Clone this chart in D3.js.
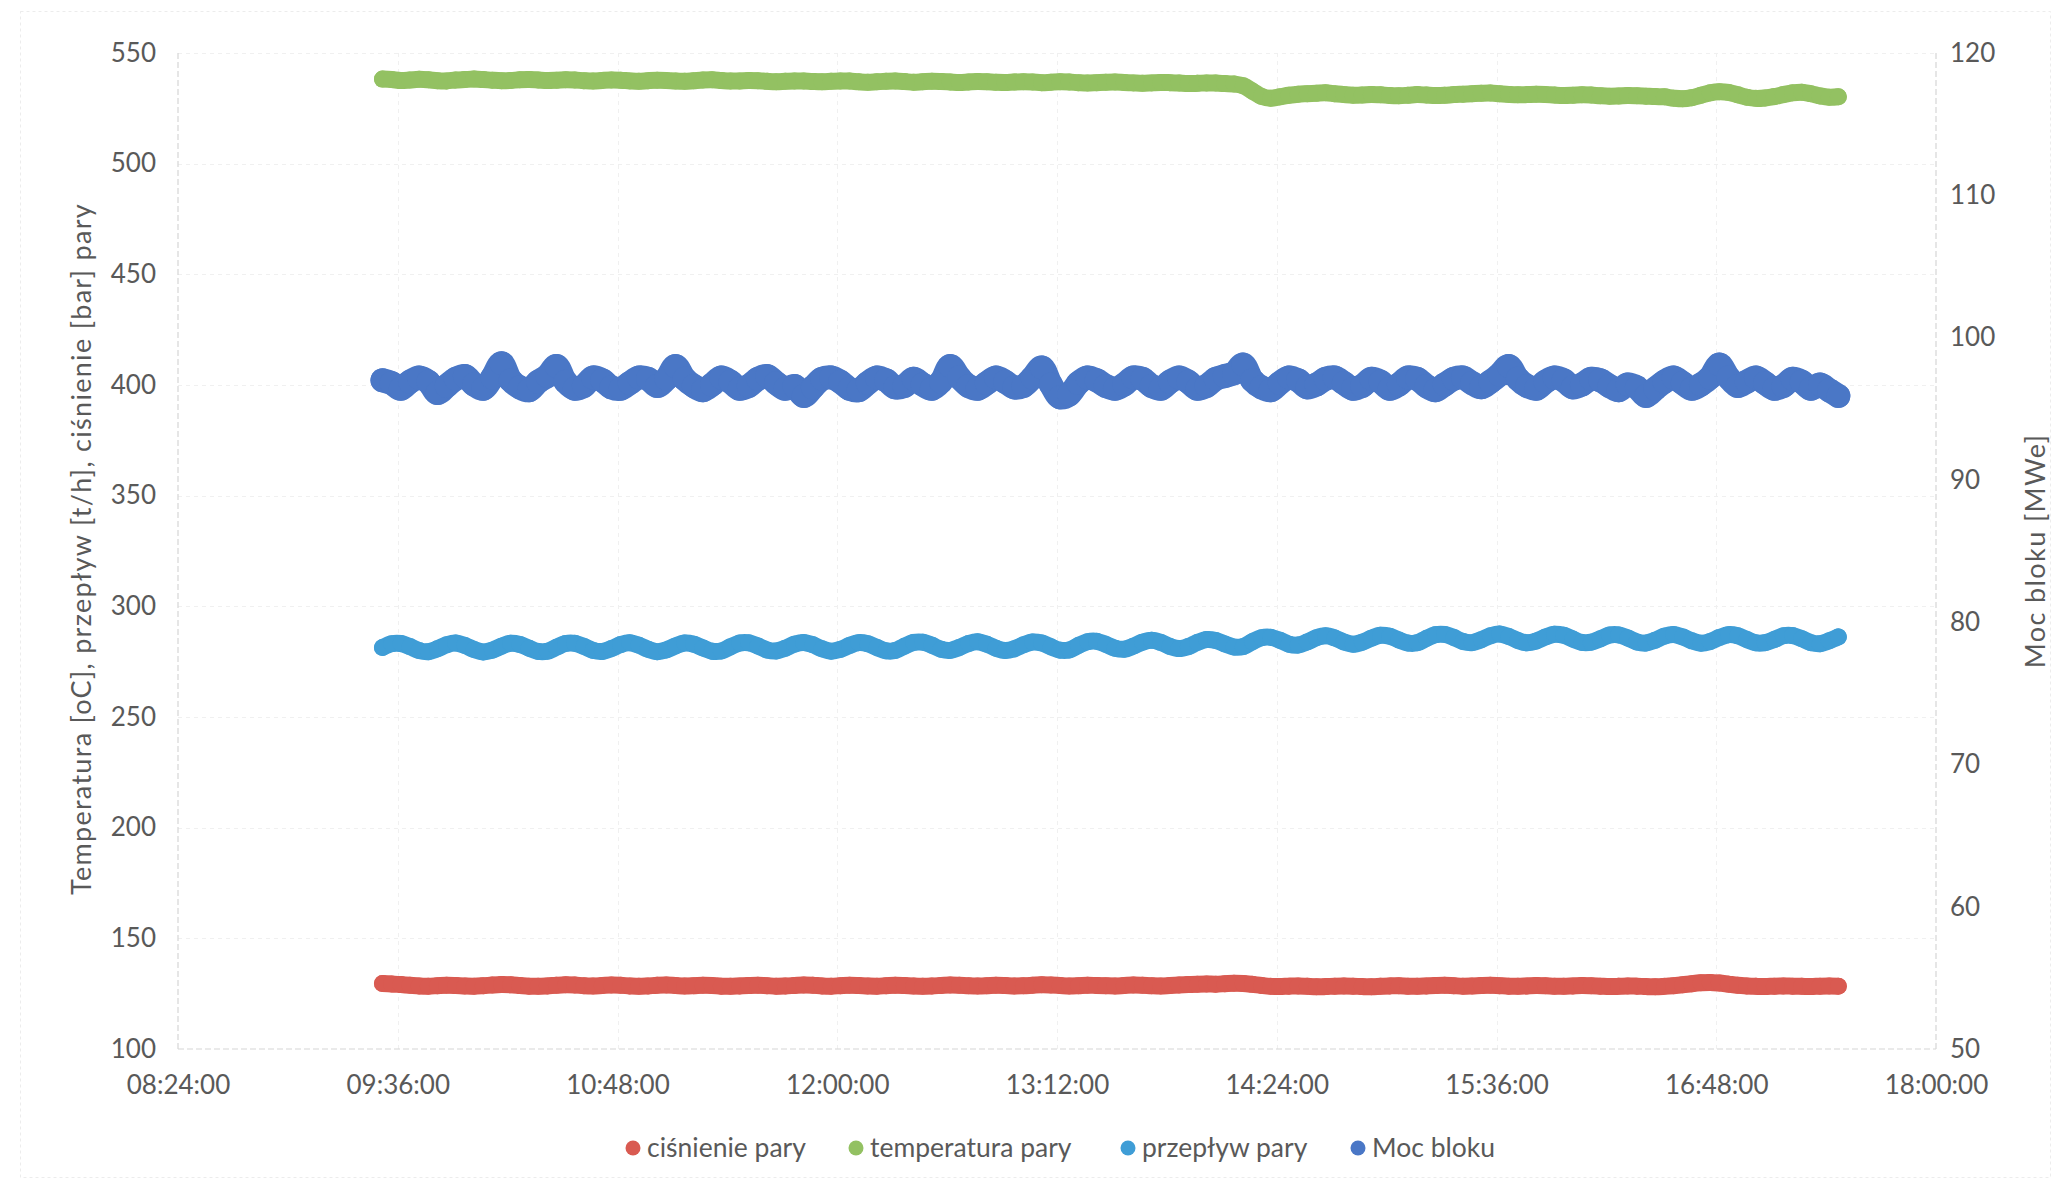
<!DOCTYPE html>
<html>
<head>
<meta charset="utf-8">
<script src="https://cdn.jsdelivr.net/npm/d3@7"></script>
<style>
  html, body { margin: 0; padding: 0; background: #ffffff; }
  svg { display: block; }
  text { font-family: Lato, "Open Sans", sans-serif; fill: #595959; }
</style>
</head>
<body>
<svg id="chart" width="2069" height="1190"></svg>
<script>
// Sampling: first reading at 09:31, one reading every 3 minutes
const startMinute = 9 * 60 + 31;
const stepMinutes = 3;

// ciśnienie pary [bar] (left axis)
const cisnienie = [
  129.6, 129.4, 129.1, 128.8, 128.5, 128.4, 128.6, 128.8, 128.7, 128.5,
  128.4, 128.6, 128.9, 129.1, 129.0, 128.7, 128.4, 128.3, 128.5, 128.8,
  129.0, 128.9, 128.6, 128.5, 128.7, 128.9, 128.8, 128.5, 128.3, 128.5,
  128.8, 128.9, 128.7, 128.5, 128.6, 128.8, 128.7, 128.4, 128.3, 128.5,
  128.7, 128.8, 128.6, 128.4, 128.5, 128.7, 128.9, 128.8, 128.5, 128.4,
  128.6, 128.8, 128.7, 128.5, 128.4, 128.6, 128.8, 128.7, 128.5, 128.4,
  128.5, 128.7, 128.9, 128.8, 128.6, 128.5, 128.6, 128.8, 128.7, 128.5,
  128.6, 128.8, 129.0, 128.9, 128.7, 128.5, 128.6, 128.8, 128.7, 128.6,
  128.5, 128.7, 128.9, 128.8, 128.6, 128.5, 128.7, 128.9, 129.1, 129.3,
  129.4, 129.3, 129.5, 129.7, 129.6, 129.2, 128.7, 128.3, 128.2, 128.4,
  128.5, 128.3, 128.1, 128.2, 128.4, 128.5, 128.4, 128.2, 128.1, 128.3,
  128.5, 128.6, 128.4, 128.3, 128.5, 128.7, 128.8, 128.6, 128.4, 128.5,
  128.7, 128.8, 128.6, 128.4, 128.3, 128.5, 128.7, 128.6, 128.4, 128.3,
  128.5, 128.7, 128.6, 128.4, 128.2, 128.3, 128.5, 128.4, 128.2, 128.1,
  128.3, 128.6, 129.0, 129.5, 129.9, 130.1, 129.8, 129.3, 128.8, 128.5,
  128.3, 128.2, 128.4, 128.5, 128.4, 128.3, 128.2, 128.4, 128.5, 128.4
];

// temperatura pary [oC] (left axis)
const temperatura = [
  538.2, 538.0, 537.6, 537.8, 538.1, 537.9, 537.5, 537.4, 537.8, 538.0,
  538.2, 538.0, 537.7, 537.5, 537.6, 537.9, 538.0, 537.8, 537.6, 537.7,
  537.9, 537.8, 537.5, 537.3, 537.6, 537.8, 537.7, 537.4, 537.2, 537.5,
  537.7, 537.6, 537.3, 537.2, 537.5, 537.8, 537.9, 537.6, 537.3, 537.4,
  537.6, 537.5, 537.2, 537.0, 537.2, 537.4, 537.3, 537.1, 537.0, 537.2,
  537.4, 537.3, 537.0, 536.8, 537.0, 537.2, 537.3, 537.1, 536.8, 537.0,
  537.2, 537.1, 536.9, 536.7, 536.9, 537.1, 537.0, 536.8, 536.7, 536.9,
  537.0, 536.9, 536.6, 536.8, 537.0, 536.9, 536.6, 536.4, 536.6, 536.8,
  536.9, 536.7, 536.5, 536.3, 536.5, 536.7, 536.6, 536.4, 536.2, 536.3,
  536.5, 536.4, 536.2, 536.0, 535.2, 532.8, 530.4, 529.6, 530.2, 530.9,
  531.4, 531.6, 531.8, 532.0, 531.6, 531.2, 530.9, 531.0, 531.3, 531.1,
  530.8, 530.7, 530.9, 531.2, 531.0, 530.8, 530.9, 531.2, 531.4, 531.6,
  531.8, 531.9, 531.6, 531.3, 531.1, 531.2, 531.4, 531.3, 531.0, 530.8,
  530.9, 531.1, 531.0, 530.7, 530.5, 530.6, 530.8, 530.7, 530.5, 530.3,
  530.2, 529.6, 529.3, 529.8, 530.9, 532.0, 532.5, 532.2, 531.1, 530.0,
  529.5, 529.7, 530.3, 531.2, 532.0, 532.3, 531.6, 530.6, 530.0, 530.2
];

// przepływ pary [t/h] (left axis)
const przeplyw = [
  281.4, 283.1, 283.2, 281.8, 280.0, 279.5, 280.8, 282.6, 283.4, 282.3,
  280.5, 279.4, 280.2, 282.0, 283.3, 282.8, 281.1, 279.6, 279.7,
  281.5, 283.2, 283.3, 281.9, 280.1, 279.6, 280.9, 282.7, 283.5, 282.4,
  280.6, 279.5, 280.3, 282.1, 283.4, 282.9, 281.2, 279.7, 279.8,
  281.7, 283.4, 283.5, 282.1, 280.3, 279.8, 281.1, 282.9, 283.7, 282.6,
  280.8, 279.7, 280.5, 282.3, 283.6, 283.1, 281.4, 279.9, 280.0,
  282.0, 283.7, 283.8, 282.4, 280.6, 280.1, 281.4, 283.2, 284.0, 282.9,
  281.1, 280.0, 280.8, 282.6, 283.9, 283.4, 281.7, 280.2, 280.3,
  282.3, 284.0, 284.2, 282.8, 281.1, 280.6, 282.0, 283.8, 284.7, 283.7,
  281.9, 280.9, 281.8, 283.7, 285.0, 284.6, 283.0, 281.6, 281.8,
  284.0, 285.8, 286.0, 284.7, 282.9, 282.5, 283.9, 285.8, 286.7, 285.7,
  283.9, 282.9, 283.8, 285.6, 286.9, 286.5, 284.8, 283.4, 283.5,
  285.5, 287.2, 287.3, 285.9, 284.1, 283.6, 284.9, 286.7, 287.5, 286.4,
  284.6, 283.5, 284.3, 286.1, 287.4, 286.9, 285.2, 283.7, 283.8,
  285.3, 287.0, 287.1, 285.7, 283.9, 283.4, 284.7, 286.5, 287.3, 286.2,
  284.4, 283.3, 284.1, 285.9, 287.2, 286.7, 285.0, 283.5, 283.6,
  285.0, 286.7, 286.8, 285.4, 283.6, 283.1, 284.4, 286.2
];

// Moc bloku [MWe] (right axis)
const mocBloku = [
  97.0, 96.8, 96.4, 96.9, 97.2, 96.9, 96.1, 96.6, 97.1, 97.3,
  96.7, 96.4, 97.2, 98.2, 97.0, 96.5, 96.3, 96.9, 97.3, 98.0,
  96.9, 96.4, 96.6, 97.2, 97.0, 96.5, 96.4, 96.8, 97.2, 97.1,
  96.6, 97.1, 98.0, 97.1, 96.6, 96.3, 96.7, 97.2, 96.9, 96.4,
  96.6, 97.1, 97.3, 96.8, 96.4, 96.6, 95.9, 96.5, 97.1, 97.2,
  96.9, 96.4, 96.3, 96.8, 97.2, 97.0, 96.5, 96.6, 97.1, 96.7,
  96.4, 96.9, 98.0, 97.2, 96.6, 96.4, 96.8, 97.2, 96.9, 96.5,
  96.6, 97.2, 97.9, 96.7, 95.8, 96.0, 96.8, 97.2, 97.0, 96.6,
  96.4, 96.7, 97.2, 97.1, 96.6, 96.4, 96.9, 97.2, 96.9, 96.4,
  96.6, 97.1, 97.3, 97.5, 98.1, 97.0, 96.5, 96.3, 96.8, 97.2,
  97.0, 96.5, 96.7, 97.1, 97.2, 96.8, 96.4, 96.6, 97.1, 96.9,
  96.4, 96.7, 97.2, 97.1, 96.6, 96.3, 96.7, 97.1, 97.2, 96.8,
  96.5, 96.9, 97.4, 98.0, 97.1, 96.6, 96.4, 96.9, 97.2, 97.0,
  96.5, 96.7, 97.1, 97.0, 96.6, 96.3, 96.7, 96.5, 95.9, 96.4,
  96.9, 97.2, 96.8, 96.4, 96.7, 97.2, 98.1, 97.2, 96.6, 96.9,
  97.2, 96.8, 96.4, 96.6, 97.1, 96.9, 96.4, 96.7, 96.3, 95.9
];

// Axis ticks
const xTickMinutes = [504, 576, 648, 720, 792, 864, 936, 1008, 1080];
const xTickLabels = ["08:24:00", "09:36:00", "10:48:00", "12:00:00", "13:12:00",
                     "14:24:00", "15:36:00", "16:48:00", "18:00:00"];
const leftTicks = [100, 150, 200, 250, 300, 350, 400, 450, 500, 550];
const rightTicks = [50, 60, 70, 80, 90, 100, 110, 120];

const seriesNames = ["ciśnienie pary", "temperatura pary", "przepływ pary", "Moc bloku"];
const seriesColors = ["#d95a51", "#93c162", "#3f9dd6", "#4a77c6"];

// Layout
const plot = { left: 178, right: 1936, top: 53, bottom: 1049 };

const svg = d3.select("#chart");

const x = d3.scaleLinear().domain([504, 1080]).range([plot.left, plot.right]);
const yL = d3.scaleLinear().domain([100, 550]).range([plot.bottom, plot.top]);
const yR = d3.scaleLinear().domain([50, 120]).range([plot.bottom, plot.top]);

// faint chart area border
svg.append("rect")
  .attr("x", 20.5).attr("y", 11.5).attr("width", 2030).attr("height", 1166)
  .attr("fill", "none").attr("stroke", "#ececec").attr("stroke-width", 1)
  .attr("stroke-dasharray", "3,3");

// gridlines
const grid = svg.append("g").attr("stroke", "#f0f0f0").attr("stroke-width", 1)
  .attr("stroke-dasharray", "4,4");
grid.selectAll("line.h").data(leftTicks.slice(1)).join("line")
  .attr("x1", plot.left).attr("x2", plot.right)
  .attr("y1", d => Math.round(yL(d)) + 0.5).attr("y2", d => Math.round(yL(d)) + 0.5);
grid.selectAll("line.v").data(xTickMinutes.slice(1, -1)).join("line")
  .attr("y1", plot.top).attr("y2", plot.bottom)
  .attr("x1", d => Math.round(x(d)) + 0.5).attr("x2", d => Math.round(x(d)) + 0.5);

// axis lines
const axisLines = svg.append("g").attr("stroke", "#d6d6d6").attr("stroke-width", 1.2)
  .attr("stroke-dasharray", "6,3");
axisLines.append("line").attr("x1", plot.left).attr("x2", plot.left).attr("y1", plot.top).attr("y2", plot.bottom);
axisLines.append("line").attr("x1", plot.right).attr("x2", plot.right).attr("y1", plot.top).attr("y2", plot.bottom);
axisLines.append("line").attr("x1", plot.left).attr("x2", plot.right).attr("y1", plot.bottom).attr("y2", plot.bottom);

// axes (labels only)
const tickFont = 26;
const gL = svg.append("g").attr("transform", `translate(${plot.left},0)`)
  .call(d3.axisLeft(yL).tickValues(leftTicks).tickSize(0).tickPadding(22));
const gR = svg.append("g").attr("transform", `translate(${plot.right},0)`)
  .call(d3.axisRight(yR).tickValues(rightTicks).tickSize(0).tickPadding(14));
const gX = svg.append("g").attr("transform", `translate(0,${plot.bottom})`)
  .call(d3.axisBottom(x).tickValues(xTickMinutes).tickSize(0).tickPadding(27)
    .tickFormat((d, i) => xTickLabels[i]));
[gL, gR, gX].forEach(g => {
  g.select(".domain").remove();
  g.selectAll("text").attr("font-size", tickFont).attr("fill", "#595959")
    .attr("font-family", "Lato, 'Open Sans', sans-serif");
});

// axis titles
const titleFont = 27;
svg.append("text")
  .attr("transform", "translate(82,549) rotate(-90)")
  .attr("text-anchor", "middle").attr("dy", "0.35em").attr("font-size", titleFont)
  .attr("letter-spacing", 1.3)
  .text("Temperatura [oC], przepływ [t/h], ciśnienie [bar] pary");
svg.append("text")
  .attr("transform", "translate(2036,551) rotate(-90)")
  .attr("text-anchor", "middle").attr("dy", "0.35em").attr("font-size", titleFont)
  .attr("letter-spacing", 1.4)
  .text("Moc bloku [MWe]");

// series: overlapping round markers joined by a band of the same width
const timeOf = i => startMinute + i * stepMinutes;
const series = [
  { values: cisnienie, y: yL, r: 8.5 },
  { values: temperatura, y: yL, r: 8.5 },
  { values: przeplyw, y: yL, r: 8.5 },
  { values: mocBloku, y: yR, r: 12 }
];

series.forEach((s, k) => {
  const g = svg.append("g");
  const line = d3.line()
    .x((d, i) => x(timeOf(i)))
    .y(d => s.y(d))
    .curve(d3.curveCatmullRom.alpha(0.5));
  g.append("path")
    .attr("d", line(s.values))
    .attr("fill", "none")
    .attr("stroke", seriesColors[k])
    .attr("stroke-width", s.r * 2)
    .attr("stroke-linejoin", "round")
    .attr("stroke-linecap", "round");
  g.selectAll("circle").data(s.values).join("circle")
    .attr("cx", (d, i) => x(timeOf(i)))
    .attr("cy", d => s.y(d))
    .attr("r", s.r)
    .attr("fill", seriesColors[k]);
});

// legend
const legendFont = 26.5;
const legendX = [633, 856, 1128, 1358];
const legendY = 1148;
const legend = svg.append("g");
seriesNames.forEach((name, k) => {
  legend.append("circle").attr("cx", legendX[k]).attr("cy", legendY).attr("r", 7.5)
    .attr("fill", seriesColors[k]);
  legend.append("text").attr("x", legendX[k] + 14).attr("y", legendY)
    .attr("dy", "0.35em").attr("font-size", legendFont).text(name);
});
</script>
</body>
</html>
